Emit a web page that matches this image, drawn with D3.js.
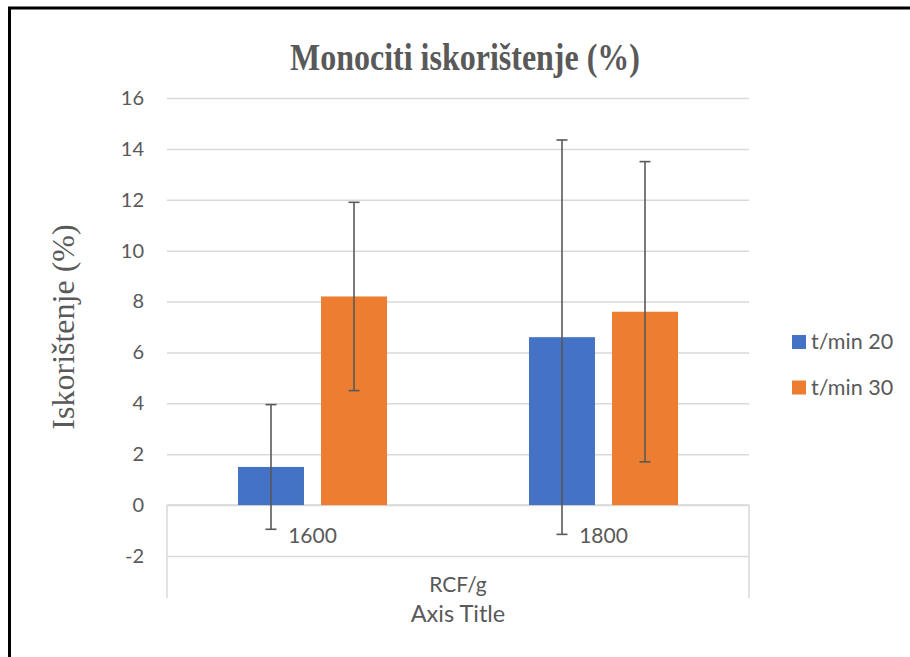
<!DOCTYPE html>
<html>
<head>
<meta charset="utf-8">
<script src="https://cdn.jsdelivr.net/npm/d3@7"></script>
<style>
html,body{margin:0;padding:0;background:#fff;}
svg{display:block;}
</style>
</head>
<body>
<svg id="chart" width="910" height="657"></svg>
<script>
const categories = ["1600", "1800"];
const seriesNames = ["t/min 20", "t/min 30"];
const values20 = [1.5, 6.6];
const values30 = [8.2, 7.6];
const errors20 = [2.45, 7.75];
const errors30 = [3.7, 5.9];
const yTicks = [-2, 0, 2, 4, 6, 8, 10, 12, 14, 16];
const colors = ["#4472C4", "#ED7D31"];

const seriesValues = [values20, values30];
const seriesErrors = [errors20, errors30];

const svg = d3.select("#chart");
const W = 910, H = 657;
const plotLeft = 167, plotRight = 749, plotTop = 98, plotBottom = 556;
const sans = "Lato, 'Open Sans', sans-serif";
const serif = "'Liberation Serif', 'Times New Roman', serif";
const textCol = "#595959";

// outer border
svg.append("rect").attr("x", 9.5).attr("y", 8).attr("width", W + 20).attr("height", H + 20)
  .attr("fill", "none").attr("stroke", "#000").attr("stroke-width", 3);

const y = d3.scaleLinear().domain([-2, 16]).range([plotBottom, plotTop]);
const x0 = d3.scaleBand().domain(categories).range([plotLeft, plotRight]).padding(0);
const x1 = d3.scaleBand().domain(seriesNames).range([0, x0.bandwidth()])
  .paddingInner(0.205).paddingOuter(0.855);

// gridlines + tick labels
const yAxis = d3.axisLeft(y).tickValues(yTicks).tickSize(-(plotRight - plotLeft)).tickFormat(d => String(d));
const gy = svg.append("g").attr("transform", `translate(${plotLeft},0)`).call(yAxis);
gy.select(".domain").remove();
gy.selectAll(".tick line").attr("stroke", "#d9d9d9").attr("stroke-width", 1.5);
gy.selectAll(".tick text").attr("x", -23).attr("fill", textCol)
  .style("font-family", sans).style("font-size", "20px");

// category axis structure
const zeroY = y(0);
svg.append("line").attr("x1", plotLeft).attr("x2", plotRight).attr("y1", zeroY).attr("y2", zeroY)
  .attr("stroke", "#d9d9d9").attr("stroke-width", 1.5);
[plotLeft, plotRight].forEach(xx => {
  svg.append("line").attr("x1", xx).attr("x2", xx).attr("y1", zeroY).attr("y2", 598)
    .attr("stroke", "#d9d9d9").attr("stroke-width", 1.5);
});

// bars
const groups = svg.append("g").selectAll("g").data(categories).join("g")
  .attr("transform", d => `translate(${x0(d)},0)`);

seriesNames.forEach((s, si) => {
  groups.append("rect")
    .attr("x", x1(s))
    .attr("width", x1.bandwidth())
    .attr("y", (d, i) => y(Math.max(0, seriesValues[si][i])))
    .attr("height", (d, i) => Math.abs(y(seriesValues[si][i]) - y(0)))
    .attr("fill", colors[si]);
});

// error bars
seriesNames.forEach((s, si) => {
  groups.each(function (d, i) {
    const g = d3.select(this);
    const cx = x1(s) + x1.bandwidth() / 2;
    const v = seriesValues[si][i], e = seriesErrors[si][i];
    const col = "#595959";
    g.append("line").attr("x1", cx).attr("x2", cx).attr("y1", y(v + e)).attr("y2", y(v - e))
      .attr("stroke", col).attr("stroke-width", 1.6);
    [v + e, v - e].forEach(val => {
      g.append("line").attr("x1", cx - 5.5).attr("x2", cx + 5.5).attr("y1", y(val)).attr("y2", y(val))
        .attr("stroke", col).attr("stroke-width", 1.6);
    });
  });
});

// category labels
svg.append("g").selectAll("text").data(categories).join("text")
  .attr("x", d => x0(d) + x0.bandwidth() / 2)
  .attr("y", 543)
  .attr("text-anchor", "middle")
  .attr("fill", textCol)
  .style("font-family", sans).style("font-size", "21px")
  .text(d => d);

svg.append("text").attr("x", (plotLeft + plotRight) / 2).attr("y", 592).attr("text-anchor", "middle")
  .attr("fill", textCol).style("font-family", sans).style("font-size", "21px")
  .text("RCF/g");

svg.append("text").attr("x", (plotLeft + plotRight) / 2).attr("y", 622).attr("text-anchor", "middle")
  .attr("fill", textCol).style("font-family", sans).style("font-size", "23.5px")
  .text("Axis Title");

// title
svg.append("text").attr("x", 465).attr("y", 70).attr("text-anchor", "middle")
  .attr("fill", textCol).style("font-family", serif)
  .style("font-size", "37px").style("font-weight", "bold")
  .attr("textLength", 350).attr("lengthAdjust", "spacingAndGlyphs")
  .text("Monociti iskorištenje (%)");

// y axis title
svg.append("text").attr("transform", `translate(74,327) rotate(-90)`)
  .attr("text-anchor", "middle").attr("fill", textCol)
  .style("font-family", serif).style("font-size", "32px")
  .text("Iskorištenje (%)");

// legend
const legend = svg.append("g").selectAll("g").data(seriesNames).join("g")
  .attr("transform", (d, i) => `translate(792,${335 + i * 45.5})`);
legend.append("rect").attr("width", 14).attr("height", 14).attr("fill", (d, i) => colors[i]);
legend.append("text").attr("x", 19).attr("y", 14)
  .attr("fill", textCol).style("font-family", sans).style("font-size", "21.5px")
  .text(d => d);
</script>
</body>
</html>
